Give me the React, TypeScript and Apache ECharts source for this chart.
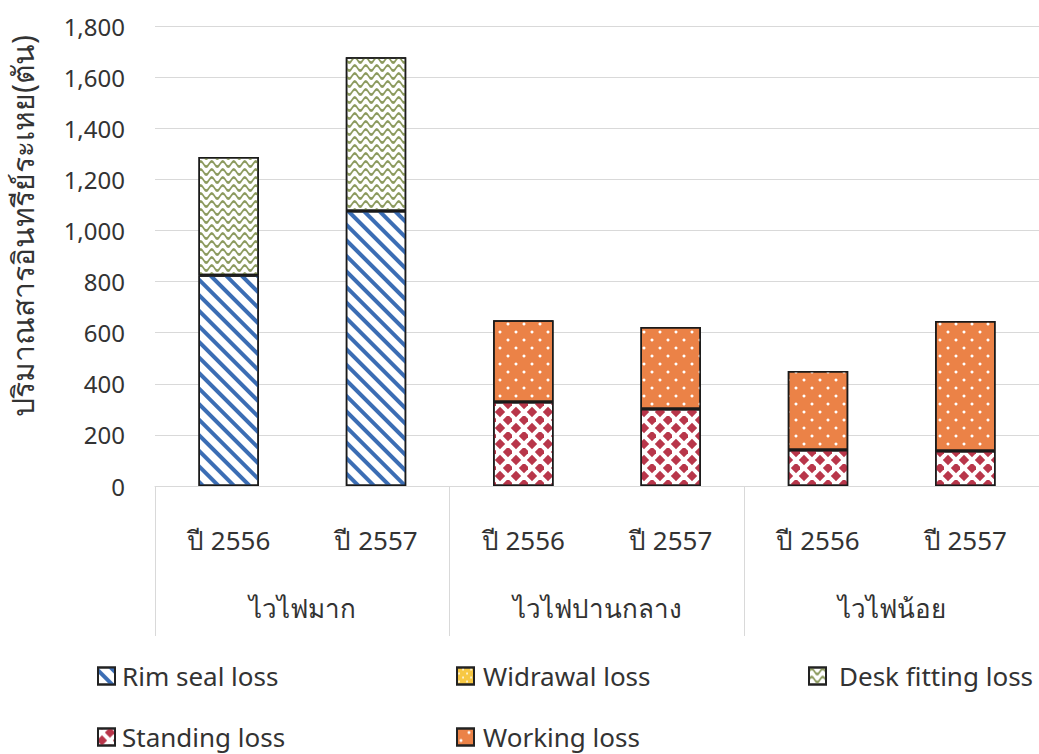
import React, { useEffect, useRef } from "react";
import * as echarts from "echarts";

const yearLabels = ["ปี 2556", "ปี 2557", "ปี 2556", "ปี 2557", "ปี 2556", "ปี 2557"];
const groupLabels = ["ไวไฟมาก", "ไวไฟปานกลาง", "ไวไฟน้อย"];
const rimSeal = [825, 1076, null, null, null, null];
const widrawal = [null, null, null, null, null, null];
const deskFitting = [462, 602, null, null, null, null];
const standing = [null, null, 329, 301, 141, 137];
const working = [null, null, 320, 321, 309, 509];
const yTicks = [0, 200, 400, 600, 800, 1000, 1200, 1400, 1600, 1800];

const FONT = "'Noto Sans', 'Open Sans', sans-serif";
const WAVE =
  "path://M0,3 Q2.75,0 5.5,3 Q8.25,6 11,3 L11,4.6 Q8.25,7.6 5.5,4.6 Q2.75,1.6 0,4.6 Z";

export default function App() {
  const ref = useRef<HTMLDivElement>(null);
  useEffect(() => {
    if (!ref.current) return;
    const chart = echarts.init(ref.current, null, { renderer: "svg" });
    const border = { borderColor: "#1a1a1a", borderWidth: 1.5 };
    const lattice = { dashArrayX: [[8, 8], [0, 8, 8, 0]], dashArrayY: [8, 0] };
    const mk = (name: string, data: any[], color: string, decal: any) => ({
      name,
      type: "bar",
      stack: "total",
      data,
      barWidth: "41%",
      itemStyle: { color, ...border, decal },
      emphasis: { disabled: true },
    });
    const leg = (name: string, left: number, top: number, pad: number) => ({
      data: [name],
      left,
      top,
      itemWidth: 17,
      itemHeight: 17,
      icon: "rect",
      itemStyle: { borderColor: "#222", borderWidth: 2 },
      textStyle: { fontSize: 26, color: "#333", fontFamily: FONT, padding: [0, 0, 0, pad] },
    });
    chart.setOption({
      animation: false,
      textStyle: { fontFamily: FONT },
      grid: { left: 155, right: 0, top: 26, bottom: 268, outerBoundsMode: "none", containLabel: false },
      legend: [
        leg("Rim seal loss", 92, 658, 2),
        leg("Standing loss", 92, 719, 2),
        leg("Widrawal loss", 451, 658, 4),
        leg("Working loss", 451, 719, 4),
        leg("Desk fitting loss", 803, 658, 8),
      ],
      xAxis: [
        {
          type: "category",
          data: yearLabels,
          axisLine: { lineStyle: { color: "#d9d9d9" } },
          axisTick: { show: false },
          axisLabel: { fontSize: 26, color: "#333", margin: 41, fontFamily: FONT },
        },
        {
          type: "category",
          data: groupLabels,
          position: "bottom",
          axisLine: { show: false },
          axisTick: { show: true, length: 150, lineStyle: { color: "#d9d9d9" } },
          axisLabel: { fontSize: 26, color: "#333", margin: 109, fontFamily: FONT },
        },
      ],
      yAxis: {
        type: "value",
        min: yTicks[0],
        max: yTicks[yTicks.length - 1],
        interval: 200,
        name: "ปริมาณสารอินทรีย์ระเหย(ตัน)",
        nameLocation: "middle",
        nameGap: 118,
        nameTextStyle: { fontSize: 30, color: "#333", fontFamily: FONT, padding: [0, 0, 0, 60] },
        axisLine: { show: false },
        axisTick: { show: false },
        splitLine: { lineStyle: { color: "#d9d9d9" } },
        axisLabel: {
          fontSize: 24,
          color: "#333",
          margin: 30,
          fontFamily: FONT,
          formatter: (v: number) => v.toLocaleString("en-US"),
        },
      },
      series: [
        mk("Rim seal loss", rimSeal, "#ffffff", {
          color: "#3b6db4",
          symbol: "rect",
          dashArrayX: [1, 0],
          dashArrayY: [4, 7],
          rotation: Math.PI / 4,
        }),
        mk("Widrawal loss", widrawal, "#f7c843", {
          color: "#ffffff",
          symbol: "circle",
          symbolSize: 0.45,
          dashArrayX: [[4, 4], [0, 4, 4, 0]],
          dashArrayY: [4, 0],
        }),
        mk("Desk fitting loss", deskFitting, "#ffffff", {
          color: "#8c9a5e",
          symbol: WAVE,
          symbolSize: 1,
          symbolKeepAspect: false,
          dashArrayX: [11, 0],
          dashArrayY: [8, 0],
        }),
        mk("Standing loss", standing, "#ffffff", {
          color: "#b8364a",
          symbol: "diamond",
          symbolSize: 1.3,
          ...lattice,
        }),
        mk("Working loss", working, "#eb8247", {
          color: "#ffffff",
          symbol: "circle",
          symbolSize: 0.38,
          ...lattice,
        }),
      ],
    });
    return () => chart.dispose();
  }, []);
  return (
    <div
      ref={ref}
      style={{ position: "fixed", left: 0, top: 0, width: 1039, height: 754, background: "#fff" }}
    />
  );
}
